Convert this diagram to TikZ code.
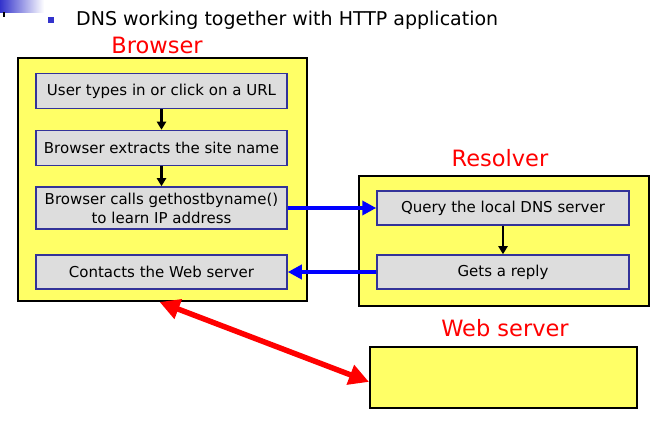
\documentclass[tikz,border=0pt]{standalone}
\usepackage{fontspec}
\setmainfont{DejaVu Sans}
\usetikzlibrary{arrows.meta,calc}
\definecolor{ylw}{HTML}{FFFF66}
\definecolor{gry}{HTML}{DDDDDD}
\definecolor{navy}{HTML}{333399}
\definecolor{bul}{HTML}{3333CC}
\tikzset{
  outerbox/.style={draw=black,line width=2pt,fill=ylw,anchor=north west,inner sep=0pt},
  innerbox/.style={draw=navy,line width=1.5pt,fill=gry,minimum width=251pt,minimum height=35pt,inner sep=0pt,align=center,font=\fontsize{15}{19}\selectfont},
  redlabel/.style={text=red,font=\fontsize{22.5}{24}\selectfont,anchor=base,inner sep=0pt},
  flow/.style={-{Triangle[length=8pt,width=9pt]},line width=2.2pt,black},
  bluearr/.style={-{Triangle[length=14pt,width=14pt]},line width=4pt,blue},
  redarr/.style={{Triangle[length=20pt,width=20pt]}-{Triangle[length=20pt,width=20pt]},line width=5.5pt,red}
}
\begin{document}
\begin{tikzpicture}[x=1pt,y=-1pt]
\useasboundingbox (0,0) rectangle (654,422);
% top-left decoration
\shade[left color=bul,right color=white] (0,0) rectangle (44,13);
\fill[black] (3.3,12) rectangle (5,17);
\fill[bul] (48,17) rectangle (54,23);
\node[anchor=base west,inner sep=0pt,font=\fontsize{19}{21}\selectfont] (title) at (76,26) {DNS working together with HTTP application};
% Browser
\node[redlabel] (blabel) at (157,54) {Browser};
\node[outerbox,minimum width=289pt,minimum height=243pt] (browser) at (17,57) {};
\node[innerbox] (b1) at (161.5,91) {User types in or click on a URL};
\node[innerbox] (b2) at (161.5,148) {Browser extracts the site name};
\node[innerbox,minimum height=42pt] (b3) at (161.5,208) {Browser calls gethostbyname()\\to learn IP address};
\node[innerbox,minimum height=34pt] (b4) at (161.5,272) {Contacts the Web server};
\draw[flow] (b1) -- (b2);
\draw[flow] (b2) -- (b3);
% Resolver
\node[redlabel] (rlabel) at (500,167) {Resolver};
\node[outerbox,minimum width=290pt,minimum height=130pt] (resolver) at (358,175) {};
\node[innerbox,minimum width=252pt,minimum height=34pt] (q) at (503,208) {Query the local DNS server};
\node[innerbox,minimum width=252pt,minimum height=34pt] (r) at (503,272) {Gets a reply};
\draw[flow] (q) -- (r);
\draw[bluearr] (b3.east) -- (q.west);
\draw[bluearr] (r.west) -- (b4.east);
% Web server
\node[redlabel] (wlabel) at (505,337) {Web server};
\node[outerbox,minimum width=267pt,minimum height=61pt] (web) at (369,346) {};
\coordinate (ra) at ($(browser.south west)!0.49!(browser.south east)$);
\coordinate (rb) at ($(web.north west)!0.57!(web.south west)$);
\draw[redarr] (ra) -- (rb);
\end{tikzpicture}
\end{document}
